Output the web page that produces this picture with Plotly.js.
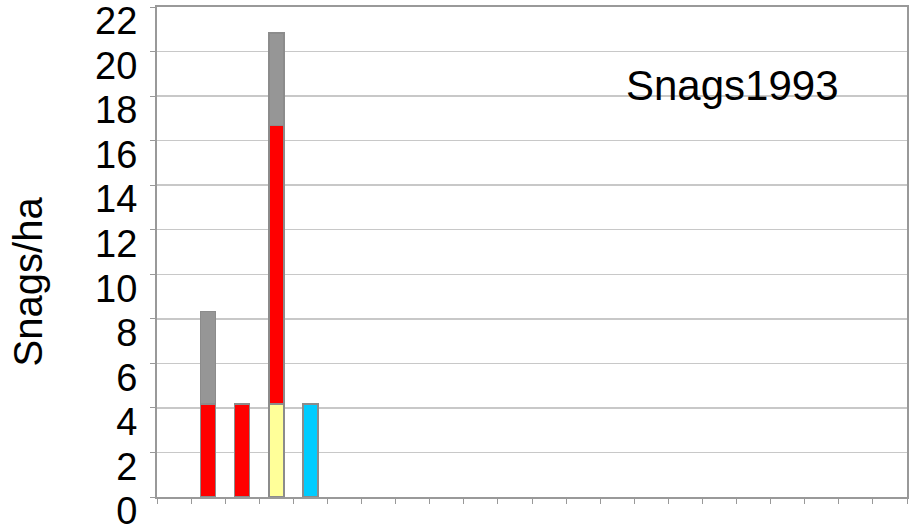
<!DOCTYPE html>
<html>
<head>
<meta charset="utf-8">
<script src="https://cdn.plot.ly/plotly-3.0.1.min.js"></script>
<style>html,body{margin:0;padding:0;background:#fff}#chart{width:910px;height:531px}</style>
</head>
<body>
<div id="chart"></div>
<script>
// Categories (labels not shown in the original chart)
const categories = ["1","2","3","4","5","6","7","8","9","10","11","12","13","14","15","16","17","18","19","20","21","22"];
const yellowVals = [null,null,null,4.17,null,null,null,null,null,null,null,null,null,null,null,null,null,null,null,null,null,null];
const cyanVals   = [null,null,null,null,4.17,null,null,null,null,null,null,null,null,null,null,null,null,null,null,null,null,null];
const redVals    = [null,4.17,4.17,12.5,null,null,null,null,null,null,null,null,null,null,null,null,null,null,null,null,null,null];
const grayVals   = [null,4.17,null,4.17,null,null,null,null,null,null,null,null,null,null,null,null,null,null,null,null,null,null];
const yTicks = [0,2,4,6,8,10,12,14,16,18,20,22];
const chartLabel = "Snags1993";
const yTitle = "Snags/ha";

const FONT = "Liberation Sans, Arial, sans-serif";
const outline = {color: "#8c8c8c", width: 1.5};
function series(name, vals, color) {
  return {type: "bar", name: name, x: categories, y: vals,
    marker: {color: color, line: outline}, width: 0.44, hoverinfo: "skip"};
}
const data = [
  series("yellow", yellowVals, "#ffff99"),
  series("cyan", cyanVals, "#00ccff"),
  series("red", redVals, "#ff0000"),
  series("gray", grayVals, "#969696")
];
const layout = {
  width: 910, height: 531,
  margin: {l: 157, r: 3, t: 7, b: 34, pad: 0},
  paper_bgcolor: "#ffffff", plot_bgcolor: "#ffffff",
  barmode: "stack", showlegend: false,
  font: {family: FONT, color: "#000000", size: 38},
  xaxis: {
    type: "category", categoryorder: "array", categoryarray: categories,
    range: [-0.5, 21.5], showticklabels: false, showgrid: false,
    tickson: "boundaries", ticks: "outside", ticklen: 5, tickwidth: 1, tickcolor: "#999999",
    showline: true, linecolor: "#999999", linewidth: 2, mirror: true, zeroline: false
  },
  yaxis: {
    range: [0, 22], tickmode: "array", tickvals: yTicks, ticktext: yTicks.map(String),
    ticks: "outside", ticklen: 5, tickwidth: 1, tickcolor: "#999999",
    tickfont: {family: FONT, size: 38, color: "#000000"},
    ticklabelshift: 14, ticklabelstandoff: 5, ticklabeloverflow: "allow",
    showgrid: true, gridcolor: "#c8c8c8", gridwidth: 1.5,
    showline: true, linecolor: "#999999", linewidth: 2, mirror: true, zeroline: false
  },
  annotations: [
    {text: chartLabel, xref: "paper", yref: "paper", x: 0.767, y: 0.84, xanchor: "center", yanchor: "middle",
     showarrow: false, font: {family: FONT, size: 42, color: "#000000"}},
    {text: yTitle, xref: "paper", yref: "paper", x: -0.172, y: 0.44, xanchor: "center", yanchor: "middle",
     textangle: -90, showarrow: false, font: {family: FONT, size: 40, color: "#000000"}}
  ]
};
Plotly.newPlot("chart", data, layout, {staticPlot: true, displayModeBar: false});
</script>
</body>
</html>
